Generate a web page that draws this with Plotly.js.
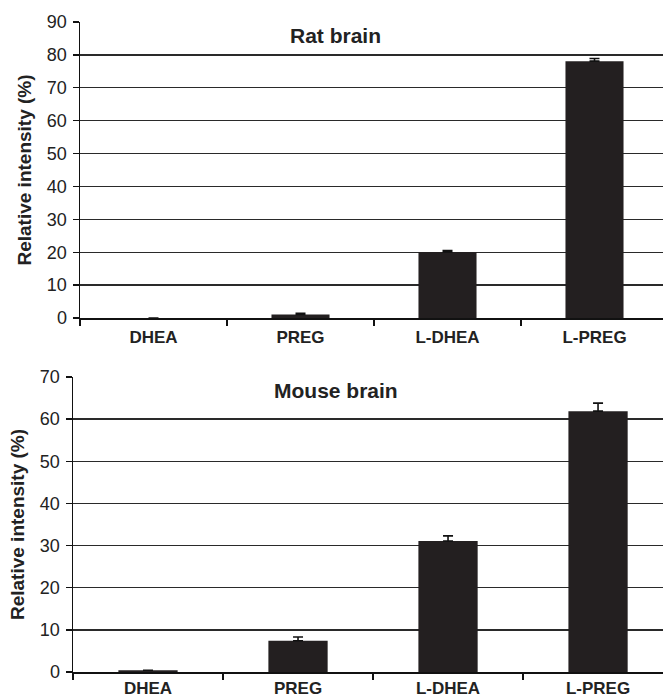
<!DOCTYPE html>
<html>
<head>
<meta charset="utf-8">
<script src="https://cdn.plot.ly/plotly-3.0.1.min.js"></script>
<style>html,body{margin:0;padding:0;background:#fff;}#chart{width:663px;height:700px;}</style>
</head>
<body>
<div id="chart"></div>
<script>
const categories = ['DHEA', 'PREG', 'L-DHEA', 'L-PREG'];
const ratValues = [0, 1.1, 20.1, 78.1];
const ratErrors = [0, 0.3, 0.4, 0.8];
const mouseValues = [0.4, 7.4, 31.1, 61.9];
const mouseErrors = [0, 0.9, 1.2, 1.9];
const ratTicks = [0, 10, 20, 30, 40, 50, 60, 70, 80, 90];
const mouseTicks = [0, 10, 20, 30, 40, 50, 60, 70];

const barColor = '#231f20';
const sans = '"Liberation Sans", Arial, Helvetica, sans-serif';
const zeros = categories.map(() => 0);

function barTrace(vals, errs, xa, ya) {
  return {
    type: 'bar', x: categories, y: vals, xaxis: xa, yaxis: ya,
    marker: {color: barColor, line: {color: '#555', width: 0}},
    error_y: {type: 'data', symmetric: false, array: errs, arrayminus: zeros,
              color: '#111', thickness: 1.6, width: 5},
    hoverinfo: 'x+y', showlegend: false
  };
}

const data = [
  barTrace(ratValues, ratErrors, 'x', 'y'),
  barTrace(mouseValues, mouseErrors, 'x2', 'y2')
];

function yAxis(domain, ticks, anchor) {
  return {
    domain: domain, anchor: anchor, range: [0, ticks[ticks.length - 1]],
    tickvals: ticks, ticktext: ticks.map(String),
    showgrid: true, gridcolor: '#2a2a2a', gridwidth: 1.4,
    showline: true, linecolor: '#111', linewidth: 1.5,
    ticks: 'outside', ticklen: 6, tickcolor: '#111', tickwidth: 1.3,
    ticklabelstandoff: 2,
    tickfont: {family: sans, size: 18, color: '#222'},
    zeroline: false, fixedrange: true,
    title: {text: 'Relative intensity (%)', font: {family: sans, size: 19, color: '#222', weight: 'bold'}, standoff: 10}
  };
}
function xAxis(domain, range, anchor, labelGap) {
  return {
    domain: domain, anchor: anchor, type: 'category', range: range,
    showline: true, linecolor: '#111', linewidth: 1.5,
    ticks: 'outside', tickson: 'boundaries', ticklen: 6, tickcolor: '#111', tickwidth: 1.3,
    ticklabelstandoff: labelGap,
    tickfont: {family: sans, size: 17, color: '#222', weight: 'bold'},
    showgrid: false, zeroline: false, fixedrange: true
  };
}

const layout = {
  width: 663, height: 700,
  margin: {l: 0, r: 0, t: 0, b: 0},
  paper_bgcolor: '#fff', plot_bgcolor: '#fff',
  bargap: 0.605,
  xaxis: xAxis([80 / 663, 1], [-0.5, 3.466], 'y', 3),
  yaxis: yAxis([382 / 700, 678 / 700], ratTicks, 'x'),
  xaxis2: xAxis([73 / 663, 1], [-0.5, 3.433], 'y2', 0),
  yaxis2: yAxis([28 / 700, 323 / 700], mouseTicks, 'x2'),
  annotations: [
    {text: 'Rat brain', xref: 'paper', yref: 'paper', x: 335 / 663, y: 1 - 36 / 700,
     xanchor: 'center', yanchor: 'middle',
     showarrow: false, font: {family: sans, size: 21, color: '#222', weight: 'bold'}},
    {text: 'Mouse brain', xref: 'paper', yref: 'paper', x: 336 / 663, y: 1 - 390 / 700,
     xanchor: 'center', yanchor: 'middle',
     showarrow: false, font: {family: sans, size: 21, color: '#222', weight: 'bold'}}
  ]
};

Plotly.newPlot('chart', data, layout, {staticPlot: true, displayModeBar: false});
</script>
</body>
</html>
